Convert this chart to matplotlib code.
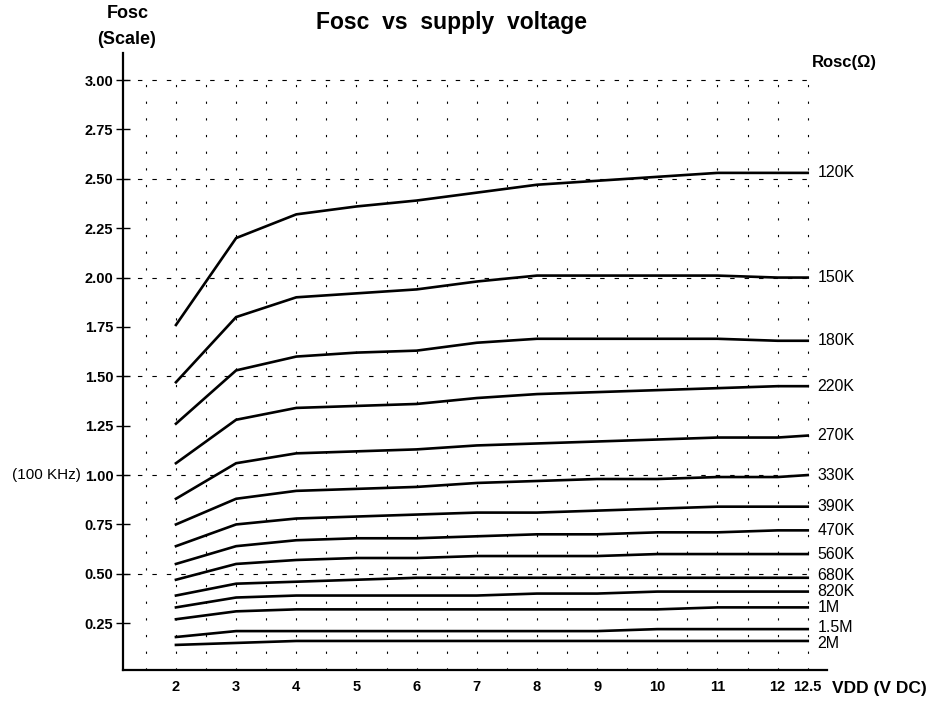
import matplotlib
matplotlib.use("Agg")
import matplotlib.pyplot as plt
import numpy as np

plt.rcParams['font.family'] = ['Liberation Sans', 'DejaVu Sans']

vdd = [2, 3, 4, 5, 6, 7, 8, 9, 10, 11, 12, 12.5]
rosc_labels = ["120K", "150K", "180K", "220K", "270K", "330K", "390K",
               "470K", "560K", "680K", "820K", "1M", "1.5M", "2M"]
f_120k = [1.76, 2.20, 2.32, 2.36, 2.39, 2.43, 2.47, 2.49, 2.51, 2.53, 2.53, 2.53]
f_150k = [1.47, 1.80, 1.90, 1.92, 1.94, 1.98, 2.01, 2.01, 2.01, 2.01, 2.00, 2.00]
f_180k = [1.26, 1.53, 1.60, 1.62, 1.63, 1.67, 1.69, 1.69, 1.69, 1.69, 1.68, 1.68]
f_220k = [1.06, 1.28, 1.34, 1.35, 1.36, 1.39, 1.41, 1.42, 1.43, 1.44, 1.45, 1.45]
f_270k = [0.88, 1.06, 1.11, 1.12, 1.13, 1.15, 1.16, 1.17, 1.18, 1.19, 1.19, 1.20]
f_330k = [0.75, 0.88, 0.92, 0.93, 0.94, 0.96, 0.97, 0.98, 0.98, 0.99, 0.99, 1.00]
f_390k = [0.64, 0.75, 0.78, 0.79, 0.80, 0.81, 0.81, 0.82, 0.83, 0.84, 0.84, 0.84]
f_470k = [0.55, 0.64, 0.67, 0.68, 0.68, 0.69, 0.70, 0.70, 0.71, 0.71, 0.72, 0.72]
f_560k = [0.47, 0.55, 0.57, 0.58, 0.58, 0.59, 0.59, 0.59, 0.60, 0.60, 0.60, 0.60]
f_680k = [0.39, 0.45, 0.46, 0.47, 0.48, 0.48, 0.48, 0.48, 0.48, 0.48, 0.48, 0.48]
f_820k = [0.33, 0.38, 0.39, 0.39, 0.39, 0.39, 0.40, 0.40, 0.41, 0.41, 0.41, 0.41]
f_1m = [0.27, 0.31, 0.32, 0.32, 0.32, 0.32, 0.32, 0.32, 0.32, 0.33, 0.33, 0.33]
f_1_5m = [0.18, 0.21, 0.21, 0.21, 0.21, 0.21, 0.21, 0.21, 0.22, 0.22, 0.22, 0.22]
f_2m = [0.14, 0.15, 0.16, 0.16, 0.16, 0.16, 0.16, 0.16, 0.16, 0.16, 0.16, 0.16]
series = [f_120k, f_150k, f_180k, f_220k, f_270k, f_330k, f_390k,
          f_470k, f_560k, f_680k, f_820k, f_1m, f_1_5m, f_2m]
# small vertical nudges (points) for the crowded end labels
label_nudge = [0, 0, 0, 0, 0, 0, 0, 0, 0, 1.5, 0, 0, 1.5, -1.5]

y_ticks = [0.25, 0.50, 0.75, 1.00, 1.25, 1.50, 1.75, 2.00, 2.25, 2.50, 2.75, 3.00]
y_ticklabels = ["0.25", "0.50", "0.75", "1.00", "1.25", "1.50", "1.75",
                "2.00", "2.25", "2.50", "2.75", "3.00"]
x_ticks = [2, 3, 4, 5, 6, 7, 8, 9, 10, 11, 12, 12.5]
x_ticklabels = ["2", "3", "4", "5", "6", "7", "8", "9", "10", "11", "12", "12.5"]
h_grid = [0.5, 1.0, 1.5, 2.0, 2.5, 3.0]
v_grid = [1.5 + 0.5 * i for i in range(23)]

fig = plt.figure(figsize=(9.39, 7.02), dpi=100)
ax = fig.add_axes([123 / 939, 1 - 670 / 702, (827 - 123) / 939, (670 - 53) / 702])
xmin, xmax = 1.12, 12.82
ymin, ymax = 0.013, 3.137
ax.set_xlim(xmin, xmax)
ax.set_ylim(ymin, ymax)

# grid
for yv in h_grid:
    ax.plot([xmin, 12.5], [yv, yv], color='black', lw=0.8,
            dashes=(4, 9), zorder=1)
for xv in v_grid:
    ax.plot([xv, xv], [ymin, 3.0], color='black', lw=0.8,
            dashes=(2, 13), zorder=1)

for vals, lab, nd in zip(series, rosc_labels, label_nudge):
    ax.plot(vdd, vals, color='black', lw=1.9, solid_joinstyle='miter', zorder=3)
    ax.annotate(lab, xy=(12.5, vals[-1]), xytext=(7, nd),
                textcoords='offset points', fontsize=11.5,
                va='center', ha='left')

for s in ['top', 'right']:
    ax.spines[s].set_visible(False)
ax.spines['left'].set_linewidth(1.6)
ax.spines['bottom'].set_linewidth(1.6)

ax.set_yticks(y_ticks)
ax.set_yticklabels(y_ticklabels, fontsize=10.5, fontweight='bold')
ax.set_xticks(x_ticks)
ax.set_xticklabels(x_ticklabels, fontsize=10.5, fontweight='bold')
ax.tick_params(axis='y', direction='inout', length=10, width=1, pad=2)
ax.tick_params(axis='x', length=0, pad=7)

fig.text(452 / 939, 1 - 22 / 702, "Fosc  vs  supply  voltage", fontsize=16.5,
         fontweight='bold', ha='center', va='center')
fig.text(128 / 939, 1 - 13 / 702, "Fosc", fontsize=13, fontweight='bold',
         ha='center', va='center')
fig.text(127 / 939, 1 - 40 / 702, "(Scale)", fontsize=13, fontweight='bold',
         ha='center', va='center')
fig.text(812 / 939, 1 - 63 / 702, "Rosc(\u03a9)", fontsize=12, fontweight='bold',
         ha='left', va='center')
fig.text(832 / 939, 1 - 688 / 702, "VDD (V DC)", fontsize=12.5, fontweight='bold',
         ha='left', va='center')
fig.text(12 / 939, 1 - 475 / 702, "(100 KHz)", fontsize=11,
         ha='left', va='center')

fig.savefig("out.png", dpi=100, facecolor='white')
